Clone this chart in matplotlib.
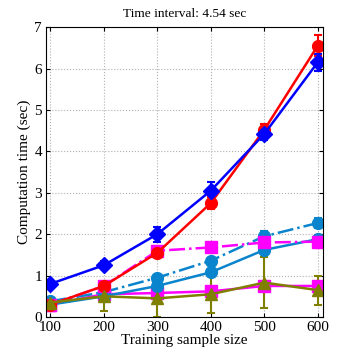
import matplotlib.pyplot as plt

plt.rcParams['font.family'] = ['Liberation Serif', 'DejaVu Serif']

sizes = [100, 200, 300, 400, 500, 600]

red_mean = [0.30, 0.75, 1.55, 2.75, 4.52, 6.55]
red_err = [0.08, 0.08, 0.10, 0.15, 0.15, 0.25]

blue_mean = [0.80, 1.25, 2.00, 3.05, 4.42, 6.15]
blue_err = [0.05, 0.10, 0.18, 0.22, 0.15, 0.20]

mag_dash_mean = [0.30, 0.75, 1.60, 1.68, 1.80, 1.82]
mag_dash_err = [0.08, 0.10, 0.12, 0.10, 0.10, 0.15]

lb_dash_mean = [0.38, 0.60, 0.95, 1.36, 1.95, 2.27]
lb_dash_err = [0.05, 0.05, 0.06, 0.06, 0.12, 0.12]

lb_mean = [0.30, 0.50, 0.75, 1.08, 1.62, 1.88]
lb_err = [0.05, 0.05, 0.06, 0.06, 0.08, 0.08]

mag_mean = [0.30, 0.55, 0.58, 0.62, 0.75, 0.75]
mag_err = [0.05, 0.08, 0.08, 0.08, 0.10, 0.10]

olive_mean = [0.35, 0.50, 0.45, 0.55, 0.83, 0.65]
olive_err = [0.10, 0.35, 0.45, 0.45, 0.62, 0.35]

lightblue = '#0a84cc'
olive = '#808000'

fig = plt.figure(figsize=(3.57, 3.57), dpi=100)
ax = fig.add_axes([0.129, 0.112, 0.776, 0.812])

common = dict(linewidth=1.8, markersize=8.5, capsize=3, elinewidth=1.5, capthick=1.5)

ax.errorbar(sizes, mag_mean, yerr=mag_err, color='magenta', marker='s', linestyle='-', **common)
ax.errorbar(sizes, lb_mean, yerr=lb_err, color=lightblue, marker='o', linestyle='-', **common)
ax.errorbar(sizes, lb_dash_mean, yerr=lb_dash_err, color=lightblue, marker='o', linestyle='-.', **common)
ax.errorbar(sizes, mag_dash_mean, yerr=mag_dash_err, color='magenta', marker='s', linestyle='-.', **common)
ax.errorbar(sizes, red_mean, yerr=red_err, color='red', marker='o', linestyle='-', **common)
ax.errorbar(sizes, blue_mean, yerr=blue_err, color='blue', marker='D', linestyle='-', **common)
ax.errorbar(sizes, olive_mean, yerr=olive_err, color=olive, marker='^', linestyle='-', **common)

ax.set_xlim(92, 610)
ax.set_ylim(0, 7)
ax.set_xticks(sizes)
ax.set_yticks(range(0, 8))
ax.tick_params(direction='in', top=True, right=True, labelsize=11, length=3, pad=3)
ax.grid(True, linestyle=':', color='#b0b0b0', linewidth=0.8)
ax.set_xlabel('Training sample size', fontsize=11, labelpad=0)
ax.set_ylabel('Computation time (sec)', fontsize=11, labelpad=2)
ax.set_title('Time interval: 4.54 sec', fontsize=9.6, pad=7)

fig.savefig('out.png', dpi=100)
